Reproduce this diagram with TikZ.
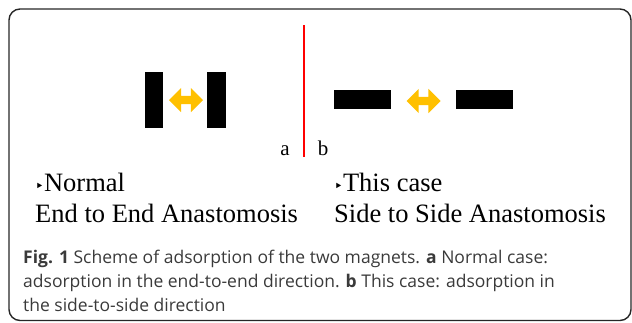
\documentclass[tikz,border=0pt]{standalone}
\usepackage{fontspec}
\setmainfont{Liberation Serif}
\newfontfamily\capfont{Open Sans}
\newfontfamily\symfont{DejaVu Sans}
\usetikzlibrary{shapes.arrows}
\definecolor{arrowor}{HTML}{FFC000}
\definecolor{captxt}{HTML}{3A3A3A}
\begin{document}
\begin{tikzpicture}[x=1pt,y=-1pt,
  magnet/.style={fill=black,draw=none},
  dbl/.style={double arrow,fill=arrowor,draw=none,inner sep=4pt,minimum width=24pt,
    minimum height=34pt,double arrow head extend=8pt},
  lbl/.style={anchor=base west,inner sep=0pt,font=\fontsize{26.5}{30}\selectfont},
  captext/.style={anchor=base west,inner sep=0pt,text=captxt,font=\capfont\fontsize{17.5}{21}\selectfont}]
\useasboundingbox (0,0) rectangle (632,322);
\draw[line width=1.4pt,draw=black!85,rounded corners=11pt] (9,9) rectangle (631,320.5);
% left panel
\fill[magnet] (145,72) rectangle (163,128);
\fill[magnet] (207,72) rectangle (226,128);
\node[dbl] (arrA) at (186,100) {};
% right panel
\fill[magnet] (334,90) rectangle (391,109);
\fill[magnet] (456,90) rectangle (513,109);
\node[dbl] (arrB) at (423.5,101) {};
% divider
\draw[red,line width=2pt] (304,25) -- (304,157);
\node[anchor=base,inner sep=0pt,font=\fontsize{21}{24}\selectfont] (la) at (285,155) {a};
\node[anchor=base,inner sep=0pt,font=\fontsize{21}{24}\selectfont] (lb) at (323,155) {b};
% labels
\node[lbl] (n1) at (35,191) {{\symfont\fontsize{15}{15}\selectfont ‣}Normal};
\node[lbl] (n2) at (35,222) {End to End Anastomosis};
\node[lbl] (t1) at (334,191) {{\symfont\fontsize{15}{15}\selectfont ‣}This case};
\node[lbl] (t2) at (334,222) {Side to Side Anastomosis};
% caption
\node[captext] (c1) at (23,263) {\textbf{Fig. 1} Scheme of adsorption of the two magnets. \textbf{a} Normal case:};
\node[captext] (c2) at (23,287) {adsorption in the end-to-end direction. \textbf{b} This case: adsorption in};
\node[captext] (c3) at (23,311) {the side-to-side direction};
\end{tikzpicture}
\end{document}
